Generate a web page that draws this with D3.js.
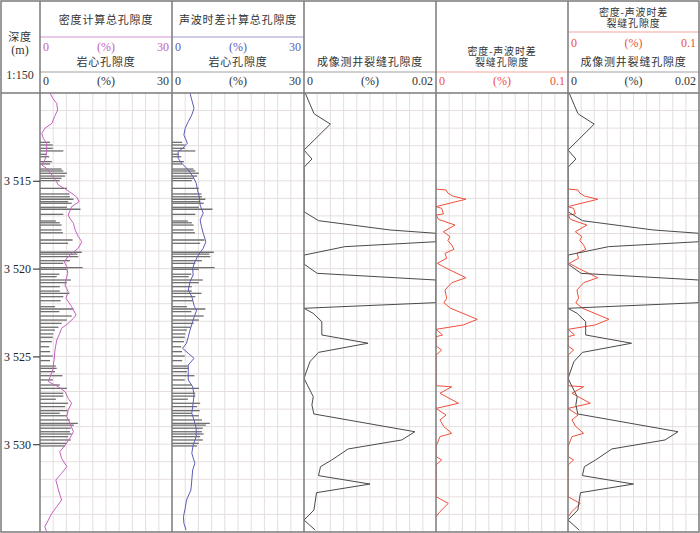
<!DOCTYPE html>
<html>
<head>
<meta charset="utf-8">
<script src="https://cdn.jsdelivr.net/npm/d3@7"></script>
<style>
  body { margin: 0; background: #fff; }
  svg { display: block; }
</style>
</head>
<body>
<div id="chart"></div>
<script>
// depth ticks (m)
var depthTicks = [3515, 3520, 3525, 3530];

// core porosity (%) - same samples in track 1 and 2
var coreDepth = [3512.81, 3512.96, 3513.15, 3513.30, 3513.49, 3513.63, 3513.91, 3514.04, 3514.33, 3514.44,
  3514.57, 3514.73, 3514.86, 3514.99, 3515.43, 3515.75, 3515.91, 3516.05, 3516.19, 3516.28,
  3516.51, 3516.62, 3516.91, 3517.29, 3517.39, 3517.52, 3517.80, 3517.96, 3518.37, 3518.56,
  3519.07, 3519.17, 3519.32, 3519.55, 3519.70, 3519.95, 3520.04, 3520.32, 3520.46, 3520.65,
  3520.80, 3521.03, 3521.28, 3521.41, 3521.60, 3521.83, 3522.17, 3522.30, 3522.45, 3522.70,
  3522.93, 3523.12, 3523.34, 3523.50, 3523.72, 3523.91, 3524.16, 3524.45, 3524.73, 3524.98,
  3525.24, 3525.55, 3525.68, 3525.87, 3526.10, 3526.34, 3526.63, 3526.82, 3527.10, 3527.26,
  3527.44, 3527.67, 3527.86, 3528.09, 3528.24, 3528.38, 3528.62, 3528.81, 3528.91, 3529.09,
  3529.29, 3529.42, 3529.57, 3529.76, 3529.95, 3530.10];
var corePor = [2.3, 2.9, 2.9, 5.3, 1.5, 2.1, 2.7, 2.3, 4.9, 5.3,
  6.1, 5.7, 4.9, 4.5, 6.1, 6.7, 6.8, 7.6, 6.4, 7.2,
  6.1, 9.2, 5.3, 3.6, 4.5, 4.9, 4.9, 5.2, 7.4, 6.4,
  9.5, 8.5, 8.7, 6.8, 5.3, 9.7, 6.1, 4.4, 3.8, 7.0,
  6.1, 4.5, 4.5, 6.7, 5.3, 4.7, 3.4, 7.6, 4.4, 7.2,
  6.1, 4.9, 4.2, 3.4, 3.0, 2.9, 2.7, 2.1, 2.3, 2.9,
  2.3, 3.6, 3.8, 3.4, 5.1, 2.9, 4.5, 6.1, 5.3, 5.3,
  3.6, 6.4, 5.7, 6.3, 4.5, 6.1, 6.8, 8.6, 7.7, 7.0,
  6.8, 7.2, 6.4, 7.0, 6.1, 5.7];

// density total porosity (%)
var denDepth = [3510.02, 3510.30, 3510.59, 3510.97, 3511.35, 3511.73, 3512.01, 3512.30, 3512.58, 3512.87,
  3513.43, 3513.82, 3514.10, 3514.29, 3514.77, 3515.24, 3515.52, 3515.91, 3516.19, 3516.47,
  3516.95, 3517.14, 3517.42, 3517.80, 3518.18, 3518.47, 3518.84, 3519.13, 3519.41, 3519.61,
  3519.89, 3520.27, 3520.65, 3520.93, 3521.32, 3521.69, 3522.17, 3522.64, 3522.83, 3523.12,
  3523.40, 3523.68, 3524.07, 3524.64, 3525.21, 3525.77, 3526.16, 3526.44, 3526.73, 3527.01,
  3527.39, 3527.67, 3528.05, 3528.43, 3528.81, 3529.29, 3529.66, 3530.05, 3530.43, 3530.80,
  3531.28, 3531.66, 3532.04, 3532.61, 3533.18, 3533.56, 3533.93, 3534.32, 3534.70, 3534.98];
var denPor = [2.3, 2.9, 3.8, 4.0, 3.3, 2.7, 1.1, 0.4, 0.75, 1.5,
  1.5, 1.1, 0.4, 1.5, 3.0, 4.2, 6.1, 8.3, 8.9, 7.2,
  6.4, 6.8, 7.6, 8.0, 8.7, 9.5, 8.7, 7.2, 6.1, 5.5,
  6.1, 6.3, 5.9, 5.7, 6.4, 5.9, 7.2, 8.2, 7.6, 6.4,
  4.9, 4.5, 3.8, 3.4, 3.2, 2.9, 2.3, 1.9, 4.2, 5.7,
  6.4, 7.2, 6.4, 6.1, 6.8, 7.6, 6.8, 5.7, 4.5, 4.9,
  6.1, 4.9, 3.6, 4.2, 4.9, 3.8, 2.7, 1.9, 1.1, 1.5];

// sonic total porosity (%)
var sonDepth = [3510.02, 3510.40, 3510.87, 3511.25, 3511.63, 3512.01, 3512.39, 3512.86, 3513.15, 3513.34,
  3513.72, 3514.00, 3514.38, 3514.77, 3515.14, 3515.52, 3515.91, 3516.38, 3516.85, 3517.23,
  3517.61, 3517.99, 3518.47, 3518.84, 3519.23, 3519.61, 3519.98, 3520.36, 3520.75, 3521.22,
  3521.60, 3522.17, 3522.36, 3522.93, 3523.50, 3523.88, 3524.25, 3524.54, 3524.82, 3525.11,
  3525.49, 3525.87, 3526.34, 3526.73, 3527.20, 3527.67, 3528.24, 3528.62, 3529.09, 3529.57,
  3530.05, 3530.52, 3531.09, 3531.47, 3532.04, 3532.61, 3533.18, 3533.65, 3534.13, 3534.50,
  3534.89];
var sonPor = [4.1, 4.5, 5.0, 4.5, 3.7, 3.0, 2.7, 3.5, 2.4, 1.4,
  1.4, 2.2, 3.7, 4.8, 5.5, 5.8, 6.2, 6.4, 7.1, 6.4,
  6.7, 7.1, 7.7, 7.1, 6.0, 5.2, 4.7, 4.8, 4.1, 3.7,
  4.5, 5.1, 5.6, 4.8, 4.1, 3.7, 3.3, 2.4, 3.7, 5.0,
  3.7, 3.7, 3.7, 4.7, 5.0, 4.8, 4.5, 5.0, 5.5, 5.5,
  4.8, 4.5, 5.2, 4.7, 4.5, 4.3, 3.3, 3.0, 2.6, 2.7,
  3.2];

// imaging log fracture porosity (%)
var imgDepth = [3510.02, 3511.16, 3511.25, 3511.77, 3513.25, 3513.76, 3514.23, 3516.76, 3517.27, 3517.80,
  3517.99, 3518.47, 3518.75, 3519.23, 3519.74, 3520.27, 3520.65, 3521.94, 3522.26, 3522.55,
  3523.02, 3523.78, 3524.25, 3524.77, 3525.30, 3526.25, 3527.29, 3527.77, 3528.28, 3529.29,
  3529.76, 3530.27, 3530.90, 3531.28, 3531.79, 3532.27, 3532.76, 3533.75, 3534.32, 3534.89];
var imgFrac = [0.0002, 0.0015, 0.0018, 0.0040, 0, 0.0012, 0, 0, 0.0022, 0.0130,
  0.0200, 0.0200, 0.0062, 0, 0, 0.0020, 0.0200, 0.0200, 0, 0.0014,
  0.0027, 0.0027, 0.0097, 0.0022, 0.0009, 0, 0.0014, 0.0012, 0.0015, 0.0168,
  0.0148, 0.0067, 0.0042, 0.0025, 0.0022, 0.0100, 0.0019, 0.0015, 0, 0.0017];

// density-sonic fracture porosity (%)
var dsDepth = [3515.47, 3515.52, 3515.70, 3515.87, 3516.05, 3516.47, 3516.57, 3516.89, 3516.95, 3517.20,
  3517.52, 3517.90, 3518.18, 3518.40, 3518.66, 3518.90, 3519.13, 3519.41, 3519.70, 3519.89,
  3520.08, 3520.52, 3520.80, 3521.22, 3521.69, 3521.95, 3522.26, 3522.89, 3523.21, 3523.46,
  3523.78, 3523.88, 3524.40, 3524.64, 3524.92, 3526.67, 3526.73, 3527.10, 3527.67, 3527.96,
  3528.34, 3528.62, 3529.00, 3529.38, 3529.57, 3530.14, 3530.70, 3530.90, 3531.18, 3532.99,
  3533.37, 3533.84, 3534.13];
var dsFrac = [0, 0.0076, 0.0090, 0.0126, 0.0227, 0, 0.0043, 0.0056, 0, 0.0020,
  0.0144, 0.0056, 0.0106, 0.0090, 0.0119, 0.0136, 0.0068, 0.0081, 0.0010, 0.0056,
  0.0106, 0.0227, 0.0120, 0.0068, 0.0081, 0.0060, 0.0111, 0.0313, 0.0207, 0,
  0.0050, 0, 0, 0.0043, 0, 0, 0.0119, 0.0030, 0.0170, 0,
  0.0076, 0.0030, 0.0060, 0.0119, 0.0030, 0, 0, 0.0043, 0, 0,
  0.0093, 0.0030, 0];

var W = 700, H = 533;
var plotTop = 93, plotBottom = 532;
var edges = [40, 172, 304, 436, 568, 699];

var cnFont = "'Noto Sans CJK SC', sans-serif";
var numFont = "'Liberation Serif', serif";
var magenta = "#c560c0", blue = "#5c5cb8", red = "#f0503c", grey = "#7a7a7a", dark = "#4a4a4a";

var svg = d3.select("#chart").append("svg")
  .attr("width", W)
  .attr("height", H);

var y = d3.scaleLinear().domain([3510, 3535]).range([plotTop, plotBottom]);

function xScale(i, max) {
  return d3.scaleLinear().domain([0, max]).range([edges[i], edges[i + 1]]);
}

// grid
var grid = svg.append("g");
for (var t = 0; t < 5; t++) {
  var gx = xScale(t, 10);
  for (var k = 1; k < 10; k++) {
    grid.append("line")
      .attr("x1", gx(k)).attr("x2", gx(k))
      .attr("y1", plotTop).attr("y2", plotBottom)
      .attr("stroke", "#e6dede").attr("stroke-width", 1);
  }
}
d3.range(3511, 3535).forEach(function(d) {
  grid.append("line")
    .attr("x1", edges[0]).attr("x2", edges[5])
    .attr("y1", y(d)).attr("y2", y(d))
    .attr("stroke", "#e6dede").attr("stroke-width", 1);
});

// clip for each track
edges.slice(0, 5).forEach(function(e, i) {
  svg.append("clipPath").attr("id", "clip" + i)
    .append("rect")
    .attr("x", e).attr("y", plotTop)
    .attr("width", edges[i + 1] - e).attr("height", plotBottom - plotTop);
});

// core bars in tracks 1 and 2
[0, 1].forEach(function(t) {
  var x = xScale(t, 30);
  svg.append("g").selectAll("line")
    .data(coreDepth)
    .enter()
    .append("line")
    .attr("x1", x(0))
    .attr("x2", function(d, i) { return x(corePor[i]); })
    .attr("y1", function(d) { return y(d); })
    .attr("y2", function(d) { return y(d); })
    .attr("stroke", "#6e6e6e")
    .attr("stroke-width", 1.3);
});

function curve(t, max, depths, vals, color) {
  var x = xScale(t, max);
  var line = d3.line()
    .x(function(d) { return x(d[1]); })
    .y(function(d) { return y(d[0]); });
  svg.append("path")
    .datum(depths.map(function(d, i) { return [d, vals[i]]; }))
    .attr("d", line)
    .attr("fill", "none")
    .attr("stroke", color)
    .attr("stroke-width", 1)
    .attr("clip-path", "url(#clip" + t + ")");
}

curve(0, 30, denDepth, denPor, magenta);
curve(1, 30, sonDepth, sonPor, blue);
curve(2, 0.02, imgDepth, imgFrac, dark);
curve(3, 0.1, dsDepth, dsFrac, red);
curve(4, 0.1, dsDepth, dsFrac, red);
curve(4, 0.02, imgDepth, imgFrac, dark);

// header separator lines
function hline(x1, x2, yy, color, w) {
  svg.append("line")
    .attr("x1", x1).attr("x2", x2)
    .attr("y1", yy).attr("y2", yy)
    .attr("stroke", color).attr("stroke-width", w || 1);
}
hline(edges[0], edges[1], 37, "#d890d2");
hline(edges[1], edges[2], 37, "#9a9ad6");
hline(edges[0], edges[3], 72, "#a0a0a0");
hline(edges[3], edges[4], 72, "#f4a39b");
hline(edges[4], edges[5], 72, "#a0a0a0");
hline(edges[4], edges[5], 32, "#f4a39b");

// frame
svg.append("rect")
  .attr("x", 1).attr("y", 1)
  .attr("width", 698).attr("height", 531)
  .attr("fill", "none").attr("stroke", grey).attr("stroke-width", 1.5);
edges.slice(0, 5).forEach(function(e) {
  svg.append("line")
    .attr("x1", e).attr("x2", e)
    .attr("y1", 1).attr("y2", plotBottom)
    .attr("stroke", grey).attr("stroke-width", 1.5);
});
hline(1, 699, plotTop, grey, 1.5);

// header text
function cnText(x, yy, s, size) {
  svg.append("text")
    .attr("x", x).attr("y", yy)
    .attr("text-anchor", "middle")
    .attr("font-family", cnFont)
    .attr("font-size", size || 11)
    .attr("letter-spacing", 0.8)
    .attr("fill", "#333")
    .text(s);
}
// two-line title in one text element
function cnText2(x, yy, lines, gap) {
  var txt = svg.append("text")
    .attr("x", x).attr("y", yy)
    .attr("text-anchor", "middle")
    .attr("font-family", cnFont)
    .attr("font-size", 10)
    .attr("letter-spacing", 0.8)
    .attr("fill", "#333");
  lines.forEach(function(s, i) {
    txt.append("tspan")
      .attr("x", x)
      .attr("dy", i === 0 ? 0 : gap)
      .text(s);
  });
}
function numText(x, yy, s) {
  svg.append("text").attr("x", x).attr("y", yy).attr("text-anchor", "middle")
    .attr("font-family", numFont).attr("font-size", 12).attr("fill", "#333").text(s);
}
function scaleRow(t, yy, maxLabel, color) {
  var g = svg.append("g")
    .attr("font-family", numFont)
    .attr("font-size", 12)
    .attr("fill", color);
  g.append("text").attr("x", edges[t] + 3).attr("y", yy).text("0");
  g.append("text").attr("x", (edges[t] + edges[t + 1]) / 2).attr("y", yy)
    .attr("text-anchor", "middle").text("(%)");
  g.append("text").attr("x", edges[t + 1] - 3).attr("y", yy)
    .attr("text-anchor", "end").text(maxLabel);
}
function mid(t) { return (edges[t] + edges[t + 1]) / 2; }

cnText(20, 41, "深度");
numText(20, 54, "(m)");
numText(20, 79, "1:150");

cnText(mid(0), 24, "密度计算总孔隙度");
scaleRow(0, 51, "30", magenta);
cnText(mid(0), 66, "岩心孔隙度");
scaleRow(0, 85, "30", "#333");

cnText(mid(1), 24, "声波时差计算总孔隙度");
scaleRow(1, 51, "30", blue);
cnText(mid(1), 66, "岩心孔隙度");
scaleRow(1, 85, "30", "#333");

cnText(mid(2), 66, "成像测井裂缝孔隙度");
scaleRow(2, 85, "0.02", "#333");

cnText2(mid(3), 55, ["密度-声波时差", "裂缝孔隙度"], 11);
scaleRow(3, 85, "0.1", red);

cnText2(mid(4), 16, ["密度-声波时差", "裂缝孔隙度"], 11);
scaleRow(4, 47, "0.1", red);
cnText(mid(4), 66, "成像测井裂缝孔隙度");
scaleRow(4, 85, "0.02", "#333");

// depth axis
var axis = d3.axisLeft(y)
  .tickValues(depthTicks)
  .tickSize(7)
  .tickPadding(2)
  .tickFormat(function(d) { return String(d).replace(/^(\d)(\d{3})$/, "$1 $2"); });
var ag = svg.append("g")
  .attr("transform", "translate(" + edges[0] + ",0)")
  .call(axis);
ag.select(".domain").remove();
ag.selectAll("line").attr("stroke", "#444").attr("stroke-width", 1.2);
ag.selectAll("text")
  .attr("font-family", numFont)
  .attr("font-size", 12)
  .attr("fill", "#222");
</script>
</body>
</html>
